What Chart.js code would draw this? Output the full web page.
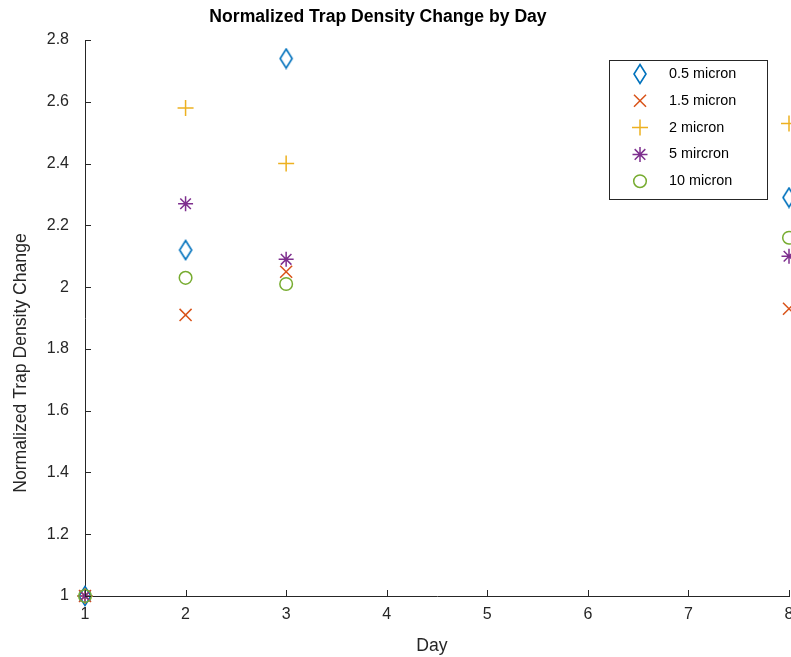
<!DOCTYPE html>
<html>
<head>
<meta charset="utf-8">
<script src="https://cdn.jsdelivr.net/npm/chart.js@4.4.0/dist/chart.umd.min.js"></script>
<style>
  html, body { margin: 0; padding: 0; background: #fff; }
</style>
</head>
<body>
<canvas id="myChart" width="791" height="657"></canvas>
<script>
// measured trap density, normalized to day 1
let days = [1, 2, 3, 8];
let micron05 = [1, 2.12, 2.74, 2.29];
let micron15 = [1, 1.91, 2.05, 1.93];
let micron2 = [1, 2.58, 2.40, 2.53];
let micron5 = [1, 2.27, 2.09, 2.10];
let micron10 = [1, 2.03, 2.01, 2.16];
let seriesNames = ['0.5 micron', '1.5 micron', '2 micron', '5 mircron', '10 micron'];
let xTicks = [1, 2, 3, 4, 5, 6, 7, 8];
let yTicks = [1, 1.2, 1.4, 1.6, 1.8, 2, 2.2, 2.4, 2.6, 2.8];

let axisColor = '#262626';
let fontName = '"Liberation Sans", Arial, Helvetica, sans-serif';

// tall matlab style diamond marker
function diamond(color) {
  let c = document.createElement('canvas');
  c.width = 16;
  c.height = 22;
  let g = c.getContext('2d');
  g.strokeStyle = color;
  g.lineWidth = 1.6;
  g.beginPath();
  g.moveTo(8, 1.5);
  g.lineTo(14, 11);
  g.lineTo(8, 20.5);
  g.lineTo(2, 11);
  g.closePath();
  g.stroke();
  return c;
}

function pts(ys) {
  let out = [];
  for (let i = 0; i < days.length; i++) {
    out.push({x: days[i], y: ys[i]});
  }
  return out;
}

let series = [
  {vals: micron05, color: '#0072BD', style: diamond('#0072BD'), r: 8},
  {vals: micron15, color: '#D95319', style: 'crossRot', r: 8.5},
  {vals: micron2, color: '#EDB120', style: 'cross', r: 8},
  {vals: micron5, color: '#7E2F8E', style: 'star', r: 7.5},
  {vals: micron10, color: '#77AC30', style: 'circle', r: 6.3}
];

let datasets = series.map(function(s, i) {
  return {
    label: seriesNames[i],
    data: pts(s.vals),
    pointStyle: s.style,
    pointRadius: s.r,
    borderColor: s.color,
    backgroundColor: 'rgba(0,0,0,0)',
    pointBorderWidth: 1.5,
    order: series.length - 1 - i, // later series drawn on top
    clip: false
  };
});

// ticks inside the axes, titles, and boxed legend
let decorations = {
  id: 'decorations',
  afterDraw: function(chart) {
    let ctx = chart.ctx;
    let xs = chart.scales.x;
    let ys = chart.scales.y;
    let area = chart.chartArea;
    ctx.save();
    ctx.strokeStyle = axisColor;
    ctx.lineWidth = 1;
    ctx.beginPath();
    xTicks.forEach(function(t) {
      let px = Math.round(xs.getPixelForValue(t)) + 0.5;
      ctx.moveTo(px, area.bottom);
      ctx.lineTo(px, area.bottom - 6);
    });
    yTicks.forEach(function(t) {
      let py = Math.round(ys.getPixelForValue(t)) + 0.5;
      ctx.moveTo(area.left, py);
      ctx.lineTo(area.left + 6, py);
    });
    ctx.stroke();

    ctx.fillStyle = '#000';
    ctx.textAlign = 'center';
    ctx.textBaseline = 'middle';
    ctx.font = 'bold 17.6px ' + fontName;
    ctx.fillText('Normalized Trap Density Change by Day', 378, 17);

    ctx.fillStyle = axisColor;
    ctx.font = '17.6px ' + fontName;
    ctx.fillText('Day', 432, 646);
    ctx.save();
    ctx.translate(21, 363);
    ctx.rotate(-Math.PI / 2);
    ctx.fillText('Normalized Trap Density Change', 0, 0);
    ctx.restore();

    // legend
    ctx.fillStyle = '#fff';
    ctx.fillRect(609.5, 60.5, 158, 139);
    ctx.strokeStyle = axisColor;
    ctx.strokeRect(609.5, 60.5, 158, 139);
    ctx.font = '14.4px ' + fontName;
    ctx.textAlign = 'left';
    chart.data.datasets.forEach(function(ds, i) {
      let y = 74 + i * 26.8;
      ctx.strokeStyle = ds.borderColor;
      ctx.fillStyle = 'rgba(0,0,0,0)';
      ctx.lineWidth = 1.5;
      Chart.helpers.drawPoint(ctx, {
        pointStyle: ds.pointStyle,
        radius: ds.pointRadius,
        borderWidth: 1.5,
        rotation: 0
      }, 640, y);
      ctx.fillStyle = '#000';
      ctx.fillText(ds.label, 669, y);
    });
    ctx.restore();
  }
};

let myChart = document.getElementById('myChart').getContext('2d');

let trapChart = new Chart(myChart, {
  type: 'scatter',
  data: { datasets: datasets },
  options: {
    responsive: false,
    animation: false,
    events: [],
    layout: {
      autoPadding: false,
      padding: { left: 0, right: 2, top: 40, bottom: 0 }
    },
    plugins: {
      legend: { display: false },
      title: { display: false },
      tooltip: { enabled: false }
    },
    scales: {
      x: {
        type: 'linear',
        min: 1,
        max: 8,
        afterBuildTicks: function(scale) {
          scale.ticks = xTicks.map(function(v) { return {value: v}; });
        },
        afterFit: function(scale) {
          scale.height = 61;
          scale.paddingLeft = 0;
          scale.paddingRight = 0;
        },
        grid: { display: false, drawTicks: false },
        border: { display: true, color: axisColor, width: 1 },
        ticks: {
          padding: 9,
          color: axisColor,
          font: { family: fontName, size: 16 },
          maxRotation: 0
        }
      },
      y: {
        type: 'linear',
        min: 1,
        max: 2.8,
        afterBuildTicks: function(scale) {
          scale.ticks = yTicks.map(function(v) { return {value: v}; });
        },
        afterFit: function(scale) {
          scale.width = 85;
          scale.paddingTop = 0;
          scale.paddingBottom = 0;
        },
        grid: { display: false, drawTicks: false },
        border: { display: true, color: axisColor, width: 1 },
        ticks: {
          padding: 16,
          color: axisColor,
          font: { family: fontName, size: 16 },
          callback: function(v) { return String(Math.round(v * 10) / 10); }
        }
      }
    }
  },
  plugins: [decorations]
});
</script>
</body>
</html>
